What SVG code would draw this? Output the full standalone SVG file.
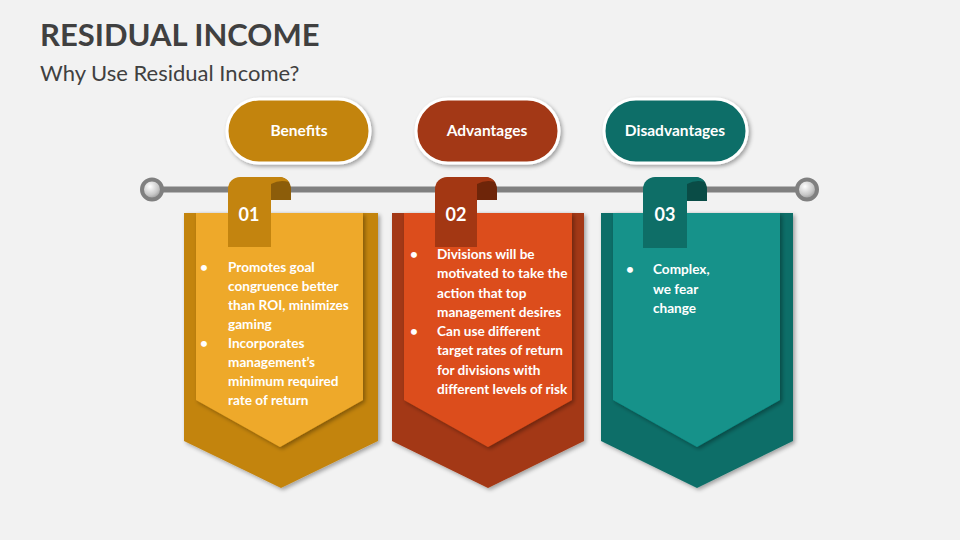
<svg xmlns="http://www.w3.org/2000/svg" width="960" height="540" viewBox="0 0 960 540">
<defs>
<filter id="sh" x="-20%" y="-20%" width="150%" height="150%">
<feGaussianBlur in="SourceAlpha" stdDeviation="2"/>
<feOffset dx="2" dy="2" result="b"/>
<feComponentTransfer><feFuncA type="linear" slope="0.35"/></feComponentTransfer>
<feMerge><feMergeNode/><feMergeNode in="SourceGraphic"/></feMerge>
</filter>
<radialGradient id="knob" cx="0.4" cy="0.35" r="0.7">
<stop offset="0" stop-color="#ffffff"/>
<stop offset="0.6" stop-color="#c8c8c8"/>
<stop offset="1" stop-color="#8a8a8a"/>
</radialGradient>
<style>
.title{font-family:Lato,"Liberation Sans",sans-serif;font-weight:700;font-size:31px;fill:#404040}
.sub{font-family:Lato,"Liberation Sans",sans-serif;font-size:22px;fill:#404040}
.pill{stroke:#ffffff;stroke-width:3}
.pt{font-family:Lato,"Liberation Sans",sans-serif;font-weight:700;font-size:15.5px;fill:#ffffff;text-anchor:middle}
.num{font-family:Lato,"Liberation Sans",sans-serif;font-weight:700;font-size:18px;fill:#ffffff;text-anchor:middle}
.body{font-family:Lato,"Liberation Sans",sans-serif;font-weight:700;font-size:13.6px;fill:#ffffff}
</style>
</defs>
<rect width="960" height="540" fill="#F2F2F2"/>
<text class="title" x="40" y="46">RESIDUAL INCOME</text>
<text class="sub" x="40" y="81">Why Use Residual Income?</text>

<g id="timeline">
<line x1="152" y1="189.5" x2="807" y2="189.5" stroke="#808080" stroke-width="6"/>
<circle cx="152" cy="189.5" r="10" fill="url(#knob)" stroke="#808080" stroke-width="4"/>
<circle cx="807" cy="189.5" r="10" fill="url(#knob)" stroke="#808080" stroke-width="4"/>
</g>

<g id="pill-benefits">
<rect class="pill" x="227" y="99" width="143" height="64" rx="32" fill="#C3840F" filter="url(#sh)"/>
<text class="pt" x="299" y="136">Benefits</text>
</g>
<g id="pill-advantages">
<rect class="pill" x="416" y="99" width="143" height="64" rx="32" fill="#A33713" filter="url(#sh)"/>
<text class="pt" x="487" y="136">Advantages</text>
</g>
<g id="pill-disadvantages">
<rect class="pill" x="604" y="99" width="143" height="64" rx="32" fill="#0E6E67" filter="url(#sh)"/>
<text class="pt" x="675" y="136">Disadvantages</text>
</g>

<g id="panel-01">
<path d="M184,213 H378 V441 L281,488 L184,441 Z" fill="#C3840F" filter="url(#sh)"/>
<path d="M196,213 H363 V400 L280,447 L196,400 Z" fill="#EEA92A" filter="url(#sh)"/>
<path d="M271,200 V177 H279 A12,12 0 0 1 291,189 V200 Z" fill="#8C5D0A"/>
<path d="M271,177 H279 A12,12 0 0 1 289,182 Q280,179 271,184 Z" fill="#C3840F"/>
<path d="M228,247 V189 A12,12 0 0 1 240,177 H271 V247 Z" fill="#C3840F"/>
<text class="num" x="249" y="221">01</text>
<g class="body">
<text x="200" y="272">•</text>
<text x="228" y="272">Promotes goal</text>
<text x="228" y="291">congruence better</text>
<text x="228" y="310">than ROI, minimizes</text>
<text x="228" y="329">gaming</text>
<text x="200" y="348">•</text>
<text x="228" y="348">Incorporates</text>
<text x="228" y="367">management’s</text>
<text x="228" y="386">minimum required</text>
<text x="228" y="405">rate of return</text>
</g>
</g>

<g id="panel-02">
<path d="M392,213 H584 V441 L488,488 L392,441 Z" fill="#A33713" filter="url(#sh)"/>
<path d="M404,213 H572 V400 L488,447 L404,400 Z" fill="#DC4E1B" filter="url(#sh)"/>
<path d="M477,200 V177 H485 A12,12 0 0 1 497,189 V200 Z" fill="#6E2509"/>
<path d="M477,177 H485 A12,12 0 0 1 495,182 Q486,179 477,184 Z" fill="#A33713"/>
<path d="M435,247 V189 A12,12 0 0 1 447,177 H477 V247 Z" fill="#A33713"/>
<text class="num" x="456" y="221">02</text>
<g class="body">
<text x="410" y="259">•</text>
<text x="437" y="259">Divisions will be</text>
<text x="437" y="278">motivated to take the</text>
<text x="437" y="298">action that top</text>
<text x="437" y="317">management desires</text>
<text x="410" y="336">•</text>
<text x="437" y="336">Can use different</text>
<text x="437" y="355">target rates of return</text>
<text x="437" y="375">for divisions with</text>
<text x="437" y="394">different levels of risk</text>
</g>
</g>

<g id="panel-03">
<path d="M601,213 H793 V441 L697,488 L601,441 Z" fill="#0E6E67" filter="url(#sh)"/>
<path d="M613,213 H780 V400 L697,447 L613,400 Z" fill="#12928A" filter="url(#sh)"/>
<path d="M687,201 V177 H695 A12,12 0 0 1 707,189 V201 Z" fill="#0A4C46"/>
<path d="M687,177 H695 A12,12 0 0 1 705,182 Q696,179 687,184 Z" fill="#0E6E67"/>
<path d="M643,248 V189 A12,12 0 0 1 655,177 H687 V248 Z" fill="#0E6E67"/>
<text class="num" x="665" y="221">03</text>
<g class="body">
<text x="626" y="274">•</text>
<text x="653" y="274">Complex,</text>
<text x="653" y="294">we fear</text>
<text x="653" y="313">change</text>
</g>
</g>
</svg>
